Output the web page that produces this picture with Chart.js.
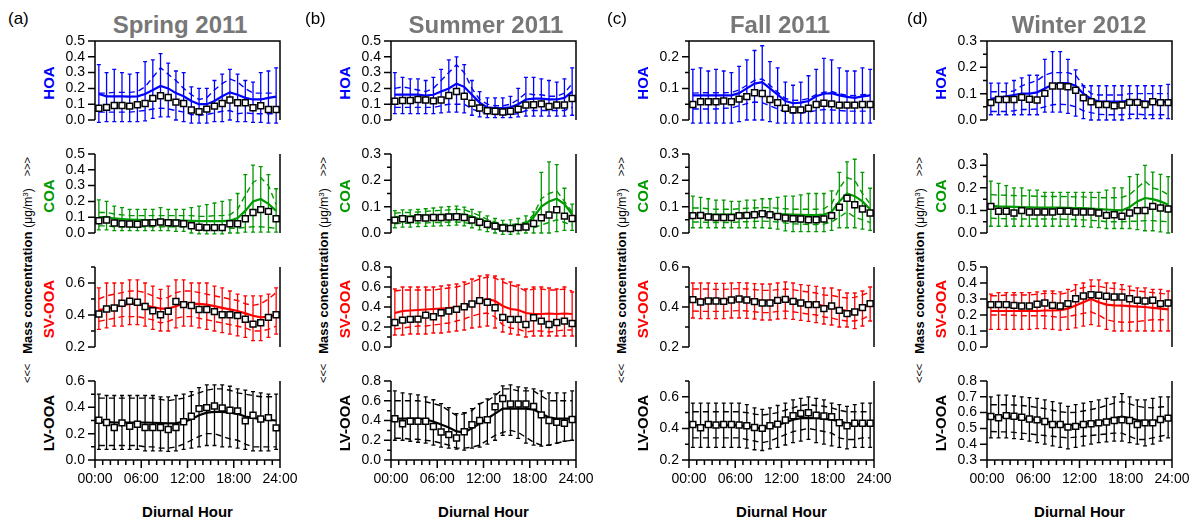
<!DOCTYPE html>
<html>
<head>
<meta charset="utf-8">
<script src="https://cdn.jsdelivr.net/npm/chart.js@4.4.1/dist/chart.umd.min.js"></script>
<style>
  html, body { margin: 0; padding: 0; background: #fff; }
  #fig { position: relative; width: 1191px; height: 523px; overflow: hidden;
         font-family: "Liberation Sans", Arial, sans-serif; color: #000; }
  #fig canvas { position: absolute; }
  .txt { position: absolute; white-space: nowrap; line-height: 1; }
  .rot { transform: translate(-50%, -50%) rotate(-90deg); }
  .ctr { transform: translateX(-50%); }
</style>
</head>
<body>
<div id="fig"></div>
<script>
// Hour-of-day bin centres (hourly diurnal profile)
const hourBins = [0.5,1.5,2.5,3.5,4.5,5.5,6.5,7.5,8.5,9.5,10.5,11.5,12.5,13.5,14.5,15.5,16.5,17.5,18.5,19.5,20.5,21.5,22.5,23.5];
const hourTicks = ['00:00','06:00','12:00','18:00','24:00'];

const seasons = ['Spring 2011','Summer 2011','Fall 2011','Winter 2012'];
const panelLetters = ['(a)','(b)','(c)','(d)'];
const factors = ['HOA','COA','SV-OOA','LV-OOA'];
const factorColors = ['#0000ff','#009900','#ff0000','#000000'];

// y-axis ranges per factor: [min, max, labelled step, tick step]
const springRanges = [[0,0.5,0.1,0.1],[0,0.5,0.1,0.1],[0.2,0.7,0.2,0.1],[0,0.6,0.2,0.1]];
const summerRanges = [[0,0.5,0.1,0.1],[0,0.3,0.1,0.05],[0,0.8,0.2,0.1],[0,0.8,0.2,0.1]];
const fallRanges   = [[0,0.25,0.1,0.05],[0,0.3,0.1,0.05],[0.2,0.6,0.2,0.1],[0.2,0.7,0.2,0.1]];
const winterRanges = [[0,0.3,0.1,0.05],[0,0.35,0.1,0.05],[0,0.5,0.1,0.1],[0.3,0.8,0.1,0.1]];

// ---------- Spring 2011 ----------
const springHOA_median = [0.074,0.080,0.092,0.092,0.088,0.097,0.105,0.137,0.153,0.143,0.113,0.105,0.063,0.053,0.069,0.088,0.105,0.126,0.109,0.109,0.078,0.090,0.067,0.067];
const springHOA_mean   = [0.165,0.150,0.150,0.150,0.148,0.150,0.165,0.190,0.215,0.200,0.170,0.150,0.120,0.100,0.100,0.120,0.150,0.175,0.160,0.140,0.130,0.130,0.140,0.148];
const springHOA_p75    = [0.170,0.170,0.175,0.175,0.175,0.180,0.210,0.270,0.330,0.290,0.250,0.200,0.160,0.130,0.140,0.190,0.230,0.260,0.240,0.200,0.170,0.170,0.170,0.170];
const springHOA_p25    = [0.050,0.050,0.050,0.050,0.050,0.055,0.060,0.070,0.075,0.070,0.060,0.050,0.035,0.030,0.035,0.045,0.055,0.060,0.040,0.045,0.040,0.040,0.040,0.040];
const springHOA_p90    = [0.350,0.300,0.320,0.300,0.290,0.300,0.370,0.380,0.420,0.360,0.310,0.300,0.210,0.200,0.200,0.250,0.290,0.320,0.290,0.250,0.240,0.300,0.310,0.330];
const springHOA_p10    = [-0.015,-0.010,-0.010,-0.010,-0.010,-0.010,-0.005,0.010,0.020,0.020,0.000,-0.010,-0.020,-0.020,-0.020,-0.010,-0.010,0.000,-0.010,-0.010,-0.015,-0.015,-0.020,-0.020];

const springCOA_median = [0.078,0.082,0.063,0.059,0.057,0.055,0.063,0.065,0.070,0.065,0.063,0.059,0.046,0.036,0.034,0.034,0.034,0.059,0.059,0.090,0.130,0.148,0.137,0.090];
const springCOA_mean   = [0.100,0.100,0.092,0.088,0.085,0.083,0.082,0.082,0.082,0.080,0.080,0.078,0.077,0.075,0.075,0.075,0.075,0.078,0.095,0.140,0.200,0.215,0.185,0.140];
const springCOA_p75    = [0.130,0.130,0.120,0.115,0.110,0.110,0.110,0.110,0.110,0.110,0.110,0.110,0.110,0.105,0.105,0.110,0.110,0.115,0.150,0.240,0.320,0.350,0.300,0.180];
const springCOA_p25    = [0.045,0.045,0.040,0.040,0.040,0.040,0.040,0.040,0.040,0.040,0.040,0.040,0.035,0.030,0.030,0.030,0.030,0.030,0.030,0.035,0.040,0.040,0.035,0.030];
const springCOA_p90    = [0.210,0.200,0.170,0.160,0.150,0.150,0.150,0.150,0.160,0.150,0.150,0.150,0.160,0.170,0.180,0.190,0.200,0.210,0.250,0.370,0.430,0.420,0.370,0.280];
const springCOA_p10    = [0.020,0.020,0.015,0.015,0.015,0.015,0.015,0.015,0.015,0.015,0.010,0.010,0.000,-0.005,-0.005,-0.005,-0.005,0.000,0.000,0.005,0.005,0.005,0.005,0.005];

const springSVOOA_median = [0.406,0.438,0.444,0.474,0.486,0.480,0.453,0.427,0.402,0.423,0.484,0.465,0.459,0.434,0.434,0.421,0.402,0.402,0.396,0.373,0.343,0.352,0.385,0.402];
const springSVOOA_mean   = [0.430,0.440,0.450,0.460,0.470,0.470,0.460,0.450,0.440,0.440,0.455,0.470,0.470,0.470,0.465,0.455,0.445,0.435,0.425,0.410,0.395,0.385,0.390,0.400];
const springSVOOA_p75    = [0.500,0.520,0.530,0.540,0.550,0.550,0.540,0.520,0.500,0.510,0.540,0.550,0.550,0.540,0.530,0.520,0.510,0.500,0.490,0.470,0.460,0.470,0.500,0.540];
const springSVOOA_p25    = [0.360,0.370,0.380,0.390,0.390,0.390,0.380,0.370,0.350,0.360,0.380,0.390,0.390,0.380,0.370,0.360,0.350,0.340,0.330,0.320,0.300,0.300,0.310,0.330];
const springSVOOA_p90    = [0.570,0.600,0.600,0.600,0.620,0.620,0.600,0.580,0.560,0.580,0.620,0.620,0.600,0.600,0.600,0.580,0.570,0.550,0.530,0.520,0.520,0.520,0.530,0.570];
const springSVOOA_p10    = [0.310,0.320,0.330,0.330,0.340,0.340,0.330,0.310,0.300,0.300,0.320,0.330,0.330,0.320,0.310,0.300,0.290,0.280,0.270,0.260,0.240,0.240,0.260,0.280];

const springLVOOA_median = [0.302,0.285,0.247,0.282,0.257,0.272,0.247,0.247,0.247,0.232,0.247,0.290,0.332,0.390,0.398,0.410,0.395,0.378,0.373,0.297,0.340,0.312,0.322,0.244];
const springLVOOA_mean   = [0.290,0.290,0.285,0.285,0.285,0.285,0.285,0.283,0.280,0.278,0.280,0.290,0.310,0.340,0.360,0.365,0.365,0.360,0.350,0.330,0.320,0.310,0.305,0.300];
const springLVOOA_p75    = [0.470,0.470,0.470,0.470,0.470,0.470,0.470,0.470,0.460,0.450,0.460,0.470,0.490,0.510,0.530,0.540,0.540,0.530,0.510,0.500,0.490,0.480,0.480,0.480];
const springLVOOA_p25    = [0.110,0.110,0.110,0.110,0.110,0.110,0.100,0.100,0.090,0.090,0.100,0.120,0.150,0.180,0.200,0.200,0.180,0.160,0.150,0.120,0.100,0.100,0.100,0.100];
const springLVOOA_p90    = [0.500,0.490,0.490,0.490,0.490,0.490,0.490,0.490,0.480,0.480,0.490,0.500,0.520,0.550,0.570,0.570,0.570,0.560,0.540,0.530,0.520,0.510,0.500,0.500];
const springLVOOA_p10    = [0.080,0.080,0.080,0.080,0.080,0.080,0.070,0.070,0.070,0.065,0.070,0.080,0.090,0.100,0.110,0.110,0.100,0.100,0.090,0.080,0.070,0.070,0.070,0.080];

// ---------- Summer 2011 ----------
const summerHOA_median = [0.119,0.123,0.123,0.130,0.127,0.121,0.127,0.155,0.180,0.150,0.106,0.076,0.059,0.055,0.051,0.055,0.068,0.095,0.097,0.102,0.085,0.095,0.095,0.136];
const summerHOA_mean   = [0.160,0.160,0.160,0.160,0.155,0.160,0.180,0.200,0.230,0.210,0.160,0.110,0.080,0.075,0.075,0.080,0.100,0.130,0.135,0.135,0.130,0.130,0.140,0.180];
const summerHOA_p75    = [0.200,0.210,0.200,0.190,0.180,0.200,0.250,0.300,0.350,0.300,0.200,0.130,0.100,0.090,0.090,0.100,0.130,0.170,0.160,0.160,0.150,0.150,0.170,0.230];
const summerHOA_p25    = [0.080,0.080,0.080,0.080,0.080,0.080,0.090,0.100,0.100,0.100,0.070,0.050,0.040,0.035,0.035,0.035,0.040,0.060,0.060,0.060,0.060,0.060,0.060,0.080];
const summerHOA_p90    = [0.300,0.270,0.260,0.260,0.250,0.270,0.320,0.380,0.400,0.350,0.250,0.180,0.140,0.140,0.140,0.150,0.200,0.270,0.270,0.260,0.250,0.240,0.260,0.330];
const summerHOA_p10    = [0.040,0.040,0.040,0.040,0.040,0.040,0.045,0.050,0.050,0.045,0.030,0.020,0.015,0.015,0.015,0.015,0.020,0.025,0.025,0.025,0.025,0.025,0.025,0.030];

const summerCOA_median = [0.049,0.054,0.051,0.058,0.057,0.059,0.059,0.061,0.062,0.059,0.049,0.041,0.033,0.026,0.019,0.017,0.021,0.023,0.036,0.058,0.068,0.088,0.064,0.055];
const summerCOA_mean   = [0.060,0.062,0.063,0.065,0.066,0.067,0.068,0.070,0.072,0.070,0.062,0.052,0.042,0.035,0.028,0.026,0.028,0.035,0.060,0.100,0.120,0.130,0.110,0.070];
const summerCOA_p75    = [0.075,0.078,0.078,0.080,0.082,0.084,0.086,0.088,0.090,0.088,0.078,0.066,0.052,0.042,0.034,0.032,0.034,0.042,0.070,0.130,0.150,0.160,0.120,0.080];
const summerCOA_p25    = [0.035,0.037,0.037,0.038,0.038,0.040,0.040,0.042,0.042,0.040,0.034,0.026,0.020,0.015,0.010,0.010,0.012,0.015,0.020,0.030,0.040,0.050,0.040,0.030];
const summerCOA_p90    = [0.085,0.088,0.088,0.090,0.092,0.095,0.098,0.100,0.102,0.098,0.090,0.080,0.065,0.055,0.048,0.050,0.055,0.065,0.080,0.230,0.270,0.260,0.170,0.110];
const summerCOA_p10    = [0.020,0.022,0.022,0.024,0.025,0.026,0.027,0.028,0.030,0.027,0.020,0.012,0.005,0.000,-0.005,-0.005,-0.003,0.000,0.000,0.000,0.000,0.005,0.010,0.010];

const summerSVOOA_median = [0.245,0.269,0.276,0.279,0.319,0.303,0.343,0.360,0.376,0.403,0.430,0.464,0.447,0.393,0.296,0.276,0.276,0.225,0.292,0.259,0.225,0.245,0.259,0.235];
const summerSVOOA_mean   = [0.340,0.360,0.365,0.370,0.375,0.380,0.385,0.390,0.400,0.410,0.430,0.450,0.480,0.460,0.410,0.380,0.370,0.340,0.330,0.330,0.335,0.330,0.335,0.330];
const summerSVOOA_p75    = [0.560,0.570,0.570,0.570,0.570,0.570,0.580,0.590,0.600,0.620,0.650,0.680,0.700,0.690,0.650,0.620,0.600,0.560,0.580,0.580,0.570,0.570,0.580,0.560];
const summerSVOOA_p25    = [0.180,0.190,0.200,0.210,0.210,0.220,0.230,0.240,0.260,0.280,0.310,0.330,0.340,0.300,0.220,0.190,0.180,0.150,0.160,0.160,0.150,0.160,0.170,0.170];
const summerSVOOA_p90    = [0.580,0.600,0.600,0.600,0.600,0.600,0.610,0.620,0.630,0.650,0.680,0.710,0.720,0.710,0.680,0.650,0.620,0.580,0.600,0.600,0.590,0.580,0.600,0.550];
const summerSVOOA_p10    = [0.120,0.120,0.130,0.130,0.130,0.140,0.140,0.150,0.160,0.170,0.190,0.200,0.210,0.190,0.150,0.130,0.120,0.100,0.110,0.110,0.110,0.110,0.110,0.110];

const summerLVOOA_median = [0.417,0.367,0.393,0.393,0.393,0.340,0.283,0.257,0.223,0.287,0.357,0.400,0.407,0.540,0.623,0.567,0.567,0.567,0.543,0.457,0.400,0.383,0.373,0.410];
const summerLVOOA_mean   = [0.420,0.420,0.420,0.420,0.410,0.390,0.360,0.330,0.290,0.280,0.320,0.370,0.420,0.470,0.520,0.520,0.520,0.520,0.510,0.470,0.430,0.420,0.420,0.420];
const summerLVOOA_p75    = [0.600,0.600,0.600,0.600,0.590,0.570,0.550,0.500,0.450,0.470,0.500,0.570,0.600,0.650,0.720,0.720,0.700,0.700,0.700,0.650,0.600,0.600,0.600,0.600];
const summerLVOOA_p25    = [0.220,0.220,0.210,0.210,0.200,0.190,0.170,0.150,0.120,0.120,0.130,0.150,0.200,0.250,0.280,0.300,0.280,0.230,0.180,0.150,0.150,0.170,0.190,0.200];
const summerLVOOA_p90    = [0.700,0.680,0.670,0.660,0.640,0.610,0.570,0.530,0.470,0.480,0.520,0.570,0.620,0.670,0.750,0.760,0.740,0.730,0.720,0.700,0.680,0.680,0.680,0.700];
const summerLVOOA_p10    = [0.200,0.200,0.190,0.180,0.170,0.150,0.130,0.120,0.110,0.100,0.120,0.130,0.160,0.200,0.250,0.250,0.220,0.170,0.150,0.140,0.150,0.170,0.190,0.200];

// ---------- Fall 2011 ----------
const fallHOA_median = [0.049,0.058,0.058,0.058,0.060,0.058,0.066,0.074,0.086,0.084,0.065,0.055,0.037,0.032,0.032,0.037,0.049,0.053,0.051,0.047,0.047,0.047,0.049,0.049];
const fallHOA_mean   = [0.078,0.078,0.078,0.078,0.078,0.078,0.085,0.100,0.115,0.120,0.100,0.080,0.060,0.053,0.055,0.060,0.075,0.083,0.085,0.078,0.073,0.070,0.075,0.078];
const fallHOA_p75    = [0.085,0.086,0.086,0.086,0.086,0.087,0.095,0.110,0.125,0.130,0.110,0.088,0.068,0.062,0.063,0.068,0.080,0.088,0.090,0.083,0.078,0.077,0.080,0.082];
const fallHOA_p25    = [0.035,0.035,0.035,0.035,0.037,0.038,0.045,0.052,0.057,0.055,0.045,0.035,0.025,0.022,0.022,0.025,0.030,0.033,0.032,0.030,0.028,0.028,0.028,0.028];
const fallHOA_p90    = [0.160,0.165,0.155,0.160,0.155,0.150,0.170,0.190,0.220,0.235,0.185,0.165,0.120,0.110,0.120,0.140,0.160,0.195,0.190,0.165,0.155,0.155,0.165,0.160];
const fallHOA_p10    = [-0.010,-0.010,-0.010,-0.010,-0.010,-0.010,-0.005,0.000,0.000,0.000,-0.005,-0.010,-0.010,-0.010,-0.010,-0.010,-0.010,-0.010,-0.010,-0.010,-0.010,-0.010,-0.010,-0.010];

const fallCOA_median = [0.066,0.067,0.061,0.059,0.059,0.059,0.066,0.067,0.069,0.073,0.069,0.063,0.057,0.054,0.053,0.050,0.050,0.053,0.066,0.098,0.132,0.107,0.091,0.076];
const fallCOA_mean   = [0.070,0.070,0.070,0.070,0.070,0.070,0.071,0.072,0.073,0.074,0.073,0.072,0.071,0.070,0.069,0.068,0.068,0.070,0.080,0.120,0.150,0.140,0.120,0.090];
const fallCOA_p75    = [0.095,0.095,0.092,0.090,0.090,0.090,0.092,0.094,0.095,0.097,0.096,0.094,0.092,0.090,0.090,0.090,0.090,0.092,0.110,0.170,0.210,0.200,0.150,0.110];
const fallCOA_p25    = [0.042,0.042,0.040,0.040,0.040,0.040,0.042,0.043,0.044,0.045,0.044,0.042,0.038,0.035,0.034,0.032,0.032,0.034,0.042,0.060,0.080,0.060,0.050,0.040];
const fallCOA_p90    = [0.140,0.135,0.130,0.125,0.125,0.120,0.120,0.125,0.125,0.130,0.130,0.135,0.140,0.140,0.145,0.150,0.150,0.150,0.160,0.230,0.270,0.280,0.230,0.170];
const fallCOA_p10    = [0.020,0.020,0.020,0.020,0.020,0.020,0.020,0.020,0.020,0.020,0.018,0.015,0.008,0.005,0.005,0.005,0.005,0.005,0.010,0.020,0.020,0.020,0.015,0.010];

const fallSVOOA_median = [0.437,0.425,0.430,0.430,0.428,0.435,0.440,0.435,0.427,0.420,0.420,0.433,0.438,0.428,0.420,0.412,0.412,0.392,0.405,0.383,0.367,0.375,0.397,0.417];
const fallSVOOA_mean   = [0.440,0.438,0.437,0.436,0.436,0.437,0.438,0.437,0.434,0.430,0.430,0.433,0.435,0.432,0.427,0.420,0.415,0.405,0.400,0.390,0.380,0.380,0.395,0.415];
const fallSVOOA_p75    = [0.490,0.490,0.490,0.488,0.488,0.490,0.492,0.490,0.487,0.483,0.483,0.487,0.490,0.487,0.480,0.475,0.470,0.460,0.458,0.450,0.445,0.448,0.460,0.475];
const fallSVOOA_p25    = [0.380,0.378,0.378,0.378,0.378,0.380,0.382,0.380,0.376,0.372,0.372,0.378,0.380,0.376,0.370,0.365,0.360,0.350,0.345,0.335,0.330,0.330,0.340,0.360];
const fallSVOOA_p90    = [0.520,0.520,0.520,0.518,0.518,0.520,0.522,0.520,0.517,0.515,0.515,0.520,0.525,0.520,0.512,0.508,0.503,0.495,0.495,0.485,0.470,0.470,0.480,0.500];
const fallSVOOA_p10    = [0.345,0.342,0.342,0.342,0.342,0.345,0.345,0.343,0.340,0.335,0.335,0.340,0.342,0.338,0.333,0.328,0.322,0.315,0.310,0.300,0.300,0.292,0.305,0.330];

const fallLVOOA_median = [0.425,0.404,0.425,0.421,0.425,0.425,0.421,0.417,0.406,0.400,0.417,0.427,0.453,0.480,0.495,0.499,0.484,0.478,0.474,0.436,0.417,0.432,0.432,0.432];
const fallLVOOA_mean   = [0.420,0.420,0.420,0.420,0.420,0.420,0.420,0.412,0.403,0.400,0.408,0.420,0.438,0.455,0.465,0.465,0.465,0.460,0.455,0.445,0.432,0.425,0.425,0.425];
const fallLVOOA_p75    = [0.505,0.505,0.505,0.505,0.505,0.505,0.505,0.500,0.490,0.485,0.490,0.500,0.515,0.530,0.545,0.550,0.545,0.540,0.530,0.515,0.505,0.505,0.505,0.505];
const fallLVOOA_p25    = [0.340,0.340,0.340,0.340,0.340,0.340,0.340,0.330,0.320,0.310,0.320,0.340,0.360,0.380,0.390,0.400,0.390,0.380,0.370,0.340,0.330,0.330,0.340,0.340];
const fallLVOOA_p90    = [0.560,0.560,0.560,0.560,0.560,0.560,0.560,0.550,0.530,0.520,0.530,0.545,0.560,0.580,0.590,0.600,0.590,0.580,0.560,0.550,0.540,0.550,0.560,0.560];
const fallLVOOA_p10    = [0.280,0.280,0.280,0.280,0.280,0.280,0.280,0.275,0.265,0.260,0.270,0.280,0.295,0.310,0.320,0.330,0.310,0.300,0.290,0.280,0.270,0.280,0.280,0.280];

// ---------- Winter 2012 ----------
const winterHOA_median = [0.066,0.078,0.078,0.078,0.086,0.079,0.076,0.101,0.129,0.129,0.126,0.113,0.084,0.069,0.059,0.059,0.054,0.057,0.067,0.067,0.059,0.069,0.066,0.066];
const winterHOA_mean   = [0.080,0.085,0.090,0.095,0.100,0.100,0.105,0.120,0.135,0.140,0.140,0.130,0.100,0.080,0.070,0.070,0.070,0.070,0.075,0.075,0.070,0.070,0.070,0.070];
const winterHOA_p75    = [0.107,0.107,0.107,0.110,0.130,0.140,0.150,0.170,0.180,0.180,0.180,0.170,0.130,0.100,0.095,0.095,0.095,0.095,0.100,0.100,0.100,0.100,0.100,0.100];
const winterHOA_p25    = [0.032,0.032,0.032,0.035,0.040,0.040,0.042,0.050,0.058,0.060,0.058,0.050,0.035,0.028,0.022,0.020,0.020,0.020,0.022,0.022,0.020,0.020,0.020,0.020];
const winterHOA_p90    = [0.140,0.140,0.140,0.150,0.160,0.170,0.170,0.230,0.260,0.260,0.230,0.190,0.130,0.130,0.130,0.130,0.130,0.130,0.130,0.130,0.130,0.130,0.130,0.135];
const winterHOA_p10    = [0.020,0.020,0.020,0.020,0.020,0.020,0.020,0.030,0.030,0.030,0.025,0.015,0.005,0.000,0.000,0.000,0.000,0.000,0.005,0.005,0.005,0.005,0.005,0.005];

const winterCOA_median = [0.118,0.096,0.096,0.089,0.099,0.093,0.093,0.093,0.093,0.096,0.096,0.093,0.093,0.093,0.089,0.078,0.081,0.074,0.089,0.099,0.100,0.118,0.111,0.106];
const winterCOA_mean   = [0.120,0.118,0.117,0.116,0.115,0.114,0.113,0.112,0.112,0.112,0.111,0.110,0.110,0.108,0.106,0.104,0.102,0.100,0.115,0.140,0.155,0.150,0.140,0.125];
const winterCOA_p75    = [0.170,0.168,0.167,0.166,0.165,0.164,0.163,0.162,0.162,0.162,0.161,0.160,0.160,0.158,0.156,0.156,0.156,0.158,0.170,0.200,0.230,0.200,0.190,0.170];
const winterCOA_p25    = [0.066,0.064,0.063,0.062,0.062,0.062,0.062,0.062,0.062,0.062,0.060,0.060,0.058,0.056,0.054,0.050,0.050,0.050,0.052,0.052,0.055,0.055,0.052,0.050];
const winterCOA_p90    = [0.230,0.220,0.210,0.200,0.200,0.190,0.190,0.180,0.180,0.180,0.180,0.180,0.180,0.180,0.180,0.190,0.200,0.200,0.250,0.260,0.300,0.270,0.260,0.250];
const winterCOA_p10    = [0.030,0.030,0.030,0.030,0.030,0.030,0.030,0.030,0.030,0.030,0.030,0.030,0.028,0.026,0.024,0.020,0.020,0.020,0.020,0.015,0.010,0.010,0.005,0.000];

const winterSVOOA_median = [0.265,0.265,0.265,0.260,0.256,0.256,0.267,0.275,0.260,0.256,0.271,0.302,0.319,0.327,0.323,0.317,0.313,0.313,0.302,0.292,0.288,0.292,0.271,0.275];
const winterSVOOA_mean   = [0.225,0.225,0.225,0.225,0.225,0.225,0.225,0.228,0.228,0.230,0.240,0.260,0.280,0.300,0.280,0.265,0.260,0.258,0.255,0.252,0.250,0.245,0.240,0.235];
const winterSVOOA_p75    = [0.320,0.320,0.325,0.325,0.325,0.325,0.330,0.335,0.335,0.330,0.340,0.360,0.370,0.380,0.380,0.370,0.365,0.360,0.355,0.350,0.345,0.340,0.335,0.330];
const winterSVOOA_p25    = [0.200,0.200,0.200,0.198,0.195,0.195,0.195,0.195,0.190,0.185,0.190,0.200,0.210,0.220,0.200,0.170,0.160,0.155,0.155,0.160,0.165,0.170,0.170,0.170];
const winterSVOOA_p90    = [0.330,0.340,0.340,0.340,0.340,0.340,0.345,0.350,0.350,0.345,0.360,0.390,0.400,0.420,0.420,0.400,0.400,0.390,0.380,0.370,0.370,0.360,0.360,0.350];
const winterSVOOA_p10    = [0.110,0.110,0.110,0.110,0.110,0.110,0.115,0.115,0.110,0.105,0.110,0.120,0.130,0.140,0.130,0.110,0.100,0.100,0.100,0.100,0.100,0.100,0.100,0.100];

const winterLVOOA_median = [0.575,0.567,0.581,0.577,0.571,0.560,0.554,0.544,0.525,0.525,0.508,0.513,0.525,0.529,0.535,0.540,0.550,0.554,0.550,0.525,0.535,0.535,0.556,0.565];
const winterLVOOA_mean   = [0.575,0.575,0.573,0.570,0.565,0.560,0.553,0.545,0.535,0.528,0.520,0.522,0.528,0.535,0.543,0.553,0.565,0.575,0.565,0.553,0.545,0.545,0.555,0.565];
const winterLVOOA_p75    = [0.650,0.650,0.650,0.648,0.645,0.640,0.633,0.625,0.615,0.605,0.600,0.602,0.610,0.620,0.630,0.645,0.660,0.670,0.655,0.640,0.632,0.630,0.635,0.640];
const winterLVOOA_p25    = [0.480,0.478,0.478,0.475,0.470,0.465,0.460,0.455,0.450,0.445,0.440,0.445,0.450,0.455,0.460,0.465,0.470,0.470,0.450,0.430,0.430,0.440,0.450,0.460];
const winterLVOOA_p90    = [0.700,0.710,0.710,0.705,0.700,0.695,0.690,0.680,0.670,0.660,0.640,0.650,0.660,0.670,0.680,0.690,0.700,0.720,0.700,0.680,0.680,0.690,0.700,0.700];
const winterLVOOA_p10    = [0.440,0.440,0.440,0.435,0.430,0.420,0.410,0.400,0.390,0.380,0.370,0.380,0.390,0.400,0.410,0.415,0.420,0.420,0.410,0.400,0.390,0.400,0.420,0.440];

// Panel table assembled from the arrays above: [season][factor]
const panelData = [
  [
    {median: springHOA_median, mean: springHOA_mean, p25: springHOA_p25, p75: springHOA_p75, p10: springHOA_p10, p90: springHOA_p90},
    {median: springCOA_median, mean: springCOA_mean, p25: springCOA_p25, p75: springCOA_p75, p10: springCOA_p10, p90: springCOA_p90},
    {median: springSVOOA_median, mean: springSVOOA_mean, p25: springSVOOA_p25, p75: springSVOOA_p75, p10: springSVOOA_p10, p90: springSVOOA_p90},
    {median: springLVOOA_median, mean: springLVOOA_mean, p25: springLVOOA_p25, p75: springLVOOA_p75, p10: springLVOOA_p10, p90: springLVOOA_p90}
  ],
  [
    {median: summerHOA_median, mean: summerHOA_mean, p25: summerHOA_p25, p75: summerHOA_p75, p10: summerHOA_p10, p90: summerHOA_p90},
    {median: summerCOA_median, mean: summerCOA_mean, p25: summerCOA_p25, p75: summerCOA_p75, p10: summerCOA_p10, p90: summerCOA_p90},
    {median: summerSVOOA_median, mean: summerSVOOA_mean, p25: summerSVOOA_p25, p75: summerSVOOA_p75, p10: summerSVOOA_p10, p90: summerSVOOA_p90},
    {median: summerLVOOA_median, mean: summerLVOOA_mean, p25: summerLVOOA_p25, p75: summerLVOOA_p75, p10: summerLVOOA_p10, p90: summerLVOOA_p90}
  ],
  [
    {median: fallHOA_median, mean: fallHOA_mean, p25: fallHOA_p25, p75: fallHOA_p75, p10: fallHOA_p10, p90: fallHOA_p90},
    {median: fallCOA_median, mean: fallCOA_mean, p25: fallCOA_p25, p75: fallCOA_p75, p10: fallCOA_p10, p90: fallCOA_p90},
    {median: fallSVOOA_median, mean: fallSVOOA_mean, p25: fallSVOOA_p25, p75: fallSVOOA_p75, p10: fallSVOOA_p10, p90: fallSVOOA_p90},
    {median: fallLVOOA_median, mean: fallLVOOA_mean, p25: fallLVOOA_p25, p75: fallLVOOA_p75, p10: fallLVOOA_p10, p90: fallLVOOA_p90}
  ],
  [
    {median: winterHOA_median, mean: winterHOA_mean, p25: winterHOA_p25, p75: winterHOA_p75, p10: winterHOA_p10, p90: winterHOA_p90},
    {median: winterCOA_median, mean: winterCOA_mean, p25: winterCOA_p25, p75: winterCOA_p75, p10: winterCOA_p10, p90: winterCOA_p90},
    {median: winterSVOOA_median, mean: winterSVOOA_mean, p25: winterSVOOA_p25, p75: winterSVOOA_p75, p10: winterSVOOA_p10, p90: winterSVOOA_p90},
    {median: winterLVOOA_median, mean: winterLVOOA_mean, p25: winterLVOOA_p25, p75: winterLVOOA_p75, p10: winterLVOOA_p10, p90: winterLVOOA_p90}
  ]
];
const axisRanges = [springRanges, summerRanges, fallRanges, winterRanges];

// ---------- layout (px) ----------
const colLeft = [95, 391, 689, 987];
const plotWidth = 185;
const rowTop = [41, 154, 267, 381];
const rowBottom = [120, 233, 347, 460];
const titleCentre = [180, 486, 780, 1079];
const letterLeft = [8, 305, 607, 907];
const Y_AXIS_W = 62, PAD_T = 22, PAD_R = 34, PAD_B = 22, X_AXIS_H = 36;

Chart.defaults.font.family = '"Liberation Sans", Arial, sans-serif';
Chart.defaults.color = '#000';

const fig = document.getElementById('fig');

function addText(text, css, cls) {
  const d = document.createElement('div');
  d.className = 'txt' + (cls ? ' ' + cls : '');
  d.textContent = text;
  Object.assign(d.style, css);
  fig.appendChild(d);
  return d;
}

function isMultiple(v, step) {
  const q = v / step;
  return Math.abs(q - Math.round(q)) < 1e-6;
}

function toPoints(arr) {
  return arr.map((v, i) => ({x: hourBins[i], y: v}));
}

// Per-panel plugin: 10th-90th percentile whiskers plus the Igor-style axes
function panelDecor(series, color, row, range) {
  return {
    id: 'panelDecor',
    beforeDatasetsDraw(chart) {
      const {ctx, scales: {x, y}} = chart;
      ctx.save();
      ctx.strokeStyle = color;
      ctx.lineWidth = 1.3;
      ctx.beginPath();
      series.p10.forEach((lo, i) => {
        const px = x.getPixelForValue(hourBins[i]);
        const y1 = y.getPixelForValue(lo);
        const y2 = y.getPixelForValue(series.p90[i]);
        ctx.moveTo(px, y1); ctx.lineTo(px, y2);
        ctx.moveTo(px - 2, y1); ctx.lineTo(px + 2, y1);
        ctx.moveTo(px - 2, y2); ctx.lineTo(px + 2, y2);
      });
      ctx.stroke();
      ctx.restore();
    },
    afterDraw(chart) {
      const {ctx, chartArea: a, scales: {x, y}} = chart;
      ctx.save();
      ctx.strokeStyle = '#000';
      ctx.lineWidth = 1.5;
      ctx.lineCap = 'butt';
      ctx.beginPath();
      ctx.moveTo(a.left, a.top); ctx.lineTo(a.left, a.bottom);
      ctx.moveTo(a.right, a.top); ctx.lineTo(a.right, a.bottom);
      if (row === 0) { ctx.moveTo(a.left - 0.75, a.top); ctx.lineTo(a.right + 0.75, a.top); }
      y.ticks.forEach(t => {
        const py = y.getPixelForValue(t.value);
        const len = isMultiple(t.value, range[2]) ? 7 : 4;
        ctx.moveTo(a.left - len, py); ctx.lineTo(a.left, py);
      });
      if (row === 3) {
        ctx.moveTo(a.left - 0.75, a.bottom); ctx.lineTo(a.right + 0.75, a.bottom);
        x.ticks.forEach(t => {
          const px = x.getPixelForValue(t.value);
          const len = isMultiple(t.value, 6) ? 8 : 5;
          ctx.moveTo(px, a.bottom); ctx.lineTo(px, a.bottom + len);
        });
      }
      ctx.stroke();
      ctx.restore();
    }
  };
}

for (let c = 0; c < 4; c++) {
  // panel letter and season title
  addText(panelLetters[c], {left: letterLeft[c] + 'px', top: '10px', fontSize: '17px'});
  addText(seasons[c], {left: titleCentre[c] + 'px', top: '13px', fontSize: '24px', fontWeight: 'bold', color: '#777777'}, 'ctr');
  // x-axis title
  addText('Diurnal Hour', {left: (colLeft[c] + plotWidth / 2) + 'px', top: '504px', fontSize: '15px', fontWeight: 'bold'}, 'ctr');
  // shared y-axis title
  const yt = document.createElement('div');
  yt.className = 'txt rot';
  yt.style.left = (colLeft[c] - 68) + 'px';
  yt.style.top = '270px';
  yt.style.display = 'flex';
  yt.style.alignItems = 'center';
  yt.innerHTML = '<span style="font-size:11px">&lt;&lt;&lt;</span>' +
    '<span style="font-size:13px;font-weight:bold;margin-left:10px">Mass concentration</span>' +
    '<span style="font-size:12px;margin-left:4px">(\u03bcg/m<sup style="font-size:8px;vertical-align:4px;line-height:0">3</sup>)</span>' +
    '<span style="font-size:11px;margin-left:12px">&gt;&gt;&gt;</span>';
  fig.appendChild(yt);

  for (let r = 0; r < 4; r++) {
    const series = panelData[c][r];
    const range = axisRanges[c][r];
    const color = factorColors[r];
    const L = colLeft[c], T = rowTop[r], B = rowBottom[r];
    const padB = r === 3 ? 0 : PAD_B;
    const extraB = r === 3 ? X_AXIS_H : PAD_B;

    // factor label
    addText(factors[r], {left: (L - 47) + 'px', top: ((T + B) / 2 + 2) + 'px', fontSize: '15px', fontWeight: 'bold', color: color}, 'rot');

    const cv = document.createElement('canvas');
    const w = Y_AXIS_W + plotWidth + PAD_R;
    const h = (B - T) + PAD_T + extraB;
    cv.width = w; cv.height = h;
    cv.style.left = (L - Y_AXIS_W) + 'px';
    cv.style.top = (T - PAD_T) + 'px';
    cv.style.width = w + 'px'; cv.style.height = h + 'px';
    fig.appendChild(cv);

    const xScale = r === 3 ? {
      type: 'linear', min: 0, max: 24, offset: false,
      grid: {display: false, drawTicks: false}, border: {display: false},
      ticks: {stepSize: 1, autoSkip: false, maxRotation: 0, minRotation: 0, maxTicksLimit: 100,
              padding: 11, color: '#000', font: {size: 14},
              callback: v => (isMultiple(v, 6) ? hourTicks[Math.round(v / 6)] : '')},
      afterFit: s => { s.height = X_AXIS_H; }
    } : {type: 'linear', min: 0, max: 24, offset: false, display: false};

    new Chart(cv, {
      type: 'line',
      data: {
        datasets: [
          {label: 'median', data: toPoints(series.median), showLine: false,
           pointStyle: 'rect', pointRadius: 4.2, pointBorderWidth: 1.5,
           pointBorderColor: '#000', pointBackgroundColor: '#fff'},
          {label: 'mean', data: toPoints(series.mean), borderColor: color, borderWidth: 2.2,
           pointRadius: 0, tension: 0, fill: false},
          {label: 'p75', data: toPoints(series.p75), borderColor: color, borderWidth: 1.4,
           borderDash: [6, 4], pointRadius: 0, tension: 0, fill: false},
          {label: 'p25', data: toPoints(series.p25), borderColor: color, borderWidth: 1.4,
           borderDash: [6, 4], pointRadius: 0, tension: 0, fill: false}
        ]
      },
      options: {
        responsive: false,
        devicePixelRatio: 1,
        animation: false,
        events: [],
        layout: {padding: {left: 0, top: PAD_T, right: PAD_R, bottom: padB}},
        plugins: {legend: {display: false}, tooltip: {enabled: false}, title: {display: false}},
        scales: {
          x: xScale,
          y: {
            type: 'linear', min: range[0], max: range[1],
            grid: {display: false, drawTicks: false}, border: {display: false},
            ticks: {stepSize: range[3], autoSkip: false, maxTicksLimit: 100, padding: 10,
                    color: '#000', font: {size: 14},
                    callback: v => (isMultiple(v, range[2]) ? v.toFixed(1) : '')},
            afterFit: s => { s.width = Y_AXIS_W; }
          }
        }
      },
      plugins: [panelDecor(series, color, r, range)]
    });
  }
}
</script>
</body>
</html>
